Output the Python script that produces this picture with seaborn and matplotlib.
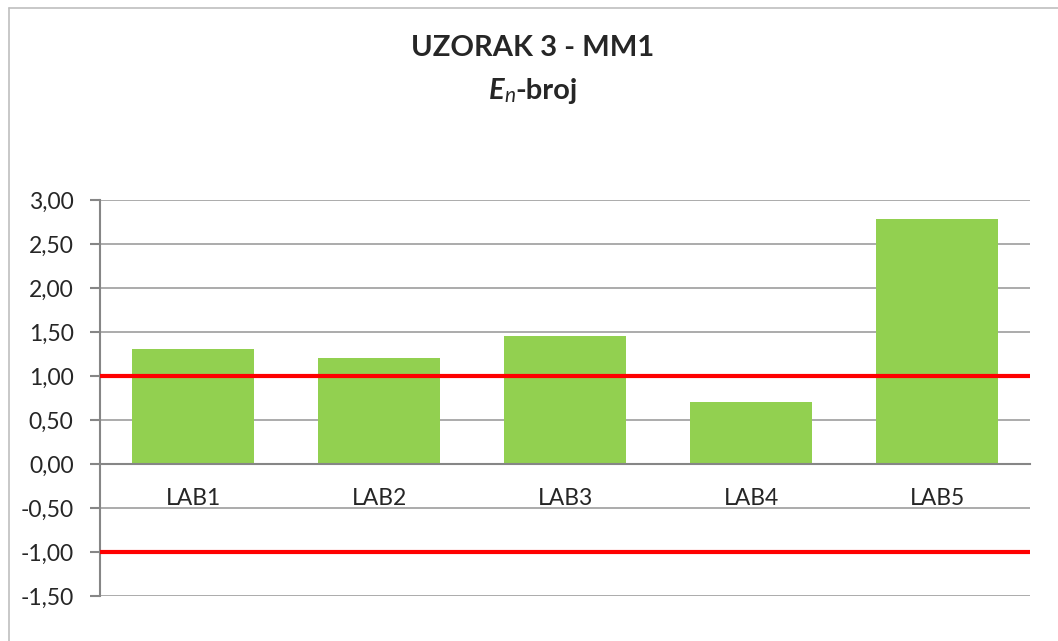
import numpy as np
import matplotlib
matplotlib.use("Agg")
import matplotlib.pyplot as plt
import seaborn as sns
from matplotlib.ticker import FuncFormatter, MultipleLocator
from matplotlib.lines import Line2D

# podaci
labs = ["LAB1", "LAB2", "LAB3", "LAB4", "LAB5"]
en_broj = [1.31, 1.20, 1.45, 0.70, 2.78]
granice = [1.0, -1.0]

sns.set_style("white")
plt.rcParams["font.family"] = ["Lato", "DejaVu Sans"]

fig = plt.figure(figsize=(10.58, 6.41), dpi=100)
ax = fig.add_axes([100 / 1058, 1 - 596 / 641, 930 / 1058, 396 / 641])

sns.barplot(x=labs, y=en_broj, color="#92D050", saturation=1, width=0.66,
            edgecolor="none", ax=ax)

ax.set_ylim(-1.5, 3.0)
ax.set_xlim(-0.5, len(labs) - 0.5)
ax.yaxis.set_major_locator(MultipleLocator(0.5))
ax.yaxis.set_major_formatter(FuncFormatter(lambda v, p: f"{v:.2f}".replace(".", ",")))

# mreža
ax.grid(axis="y", color="#ABABAB", lw=1.4, zorder=0)
ax.set_axisbelow(True)

# granice En = +/-1
for g in granice:
    ax.axhline(g, color="#FF0000", lw=3, zorder=3)

for s in ["top", "right"]:
    ax.spines[s].set_visible(False)
ax.spines["left"].set_color("#868686")
ax.spines["left"].set_linewidth(1.5)
ax.spines["bottom"].set_position(("data", 0))
ax.spines["bottom"].set_color("#868686")
ax.spines["bottom"].set_linewidth(1.5)
ax.spines["bottom"].set_zorder(4)

ax.tick_params(axis="y", direction="out", length=7, width=1.5, color="#868686",
               labelsize=16.5, pad=12, left=True)
ax.tick_params(axis="x", length=0, labelsize=16.5, pad=17)
ax.set_xlabel("")
ax.set_ylabel("")

# okvir grafikona
fig.add_artist(Line2D([8.5 / 1058, 8.5 / 1058], [0, 1 - 7.5 / 641],
                      transform=fig.transFigure, color="#BFBFBF", lw=1.2))
fig.add_artist(Line2D([8.5 / 1058, 1], [1 - 7.5 / 641, 1 - 7.5 / 641],
                      transform=fig.transFigure, color="#BFBFBF", lw=1.2))

# naslov
cx = 533 / 1058
fig.text(cx, 1 - 48 / 641, "UZORAK 3 - MM1", ha="center", va="center",
         fontsize=21, fontweight="bold")

# podnaslov: E(n)-broj, složen iz dijelova
y2 = 1 - 99 / 641
parts = [("E", dict(fontsize=21, fontweight="bold", style="italic"), 0),
         ("n", dict(fontsize=15, style="italic"), -0.004),
         ("-broj", dict(fontsize=21, fontweight="bold"), 0)]
fig.canvas.draw()
r = fig.canvas.get_renderer()
txts = []
widths = []
for s, kw, dy in parts:
    t = fig.text(0, y2 + dy, s, ha="left", va="baseline", **kw)
    bb = t.get_window_extent(r)
    txts.append(t)
    widths.append(bb.width / fig.bbox.width)
x0 = cx - sum(widths) / 2
for t, w in zip(txts, widths):
    t.set_x(x0)
    x0 += w

fig.savefig("out.png", dpi=100)
